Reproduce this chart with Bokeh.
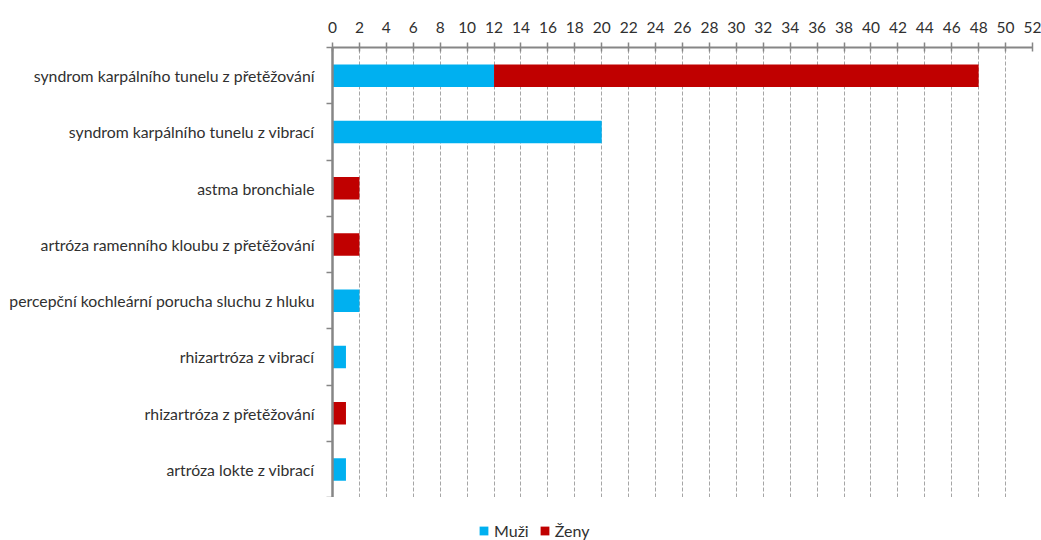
from bokeh.plotting import figure
from bokeh.layouts import column
from bokeh.models import (ColumnDataSource, Range1d, FixedTicker, Legend, LegendItem)
from bokeh.embed import file_html
from bokeh.resources import INLINE

# Occupational diseases by diagnosis, split by sex
categories = [
    "syndrom karpálního tunelu z přetěžování",
    "syndrom karpálního tunelu z vibrací",
    "astma bronchiale",
    "artróza ramenního kloubu z přetěžování",
    "percepční kochleární porucha sluchu z hluku",
    "rhizartróza z vibrací",
    "rhizartróza z přetěžování",
    "artróza lokte z vibrací",
]
muzi = [12, 20, 0, 0, 2, 1, 0, 1]
zeny = [36, 0, 2, 2, 0, 0, 1, 0]
series_names = ["Muži", "Ženy"]
x_ticks = list(range(0, 53, 2))

n = len(categories)
# first category at the top
ypos = [n - i - 0.5 for i in range(n)]
zeny_end = [m + z for m, z in zip(muzi, zeny)]

src = ColumnDataSource(dict(y=ypos, m0=[0] * n, m1=muzi, z0=muzi, z1=zeny_end))

FONT = "Lato"
TXT = "#303030"
BLUE = "#00B0F0"
RED = "#C00000"
AX = "#868686"

p = figure(
    width=1041, height=497,
    min_border_left=332, min_border_right=9, min_border_top=47, min_border_bottom=0,
    x_range=Range1d(0, 52), y_range=Range1d(0, n),
    x_axis_location="above",
    output_backend="svg", toolbar_location=None,
)
p.outline_line_color = None
p.background_fill_color = "white"
p.border_fill_color = "white"

p.hbar(y="y", left="m0", right="m1", height=0.4, color=BLUE, line_color=None, source=src)
p.hbar(y="y", left="z0", right="z1", height=0.4, color=RED, line_color=None, source=src)

# top value axis
xa = p.xaxis[0]
xa.ticker = FixedTicker(ticks=x_ticks)
xa.axis_line_color = AX
xa.axis_line_width = 2
xa.major_tick_line_color = AX
xa.major_tick_line_width = 1.5
xa.major_tick_in = 4
xa.major_tick_out = 5
xa.minor_tick_line_color = None
xa.major_label_text_font = FONT
xa.major_label_text_font_size = "15.5px"
xa.major_label_text_color = TXT
xa.major_label_standoff = 10

# left category axis: labels centred on bars, ticks between categories
ya = p.yaxis[0]
ya.ticker = FixedTicker(ticks=ypos, minor_ticks=list(range(0, n + 1)))
ya.major_label_overrides = {y: c for y, c in zip(ypos, categories)}
ya.axis_line_color = AX
ya.axis_line_width = 2.5
ya.major_tick_line_color = None
ya.minor_tick_line_color = AX
ya.minor_tick_line_width = 1.5
ya.minor_tick_in = 0
ya.minor_tick_out = 6
ya.major_label_text_font = FONT
ya.major_label_text_font_size = "15.8px"
ya.major_label_text_color = TXT
ya.major_label_standoff = 12

p.xgrid.ticker = FixedTicker(ticks=x_ticks[1:])
p.xgrid.grid_line_color = "#A6A6A6"
p.xgrid.grid_line_dash = "4 2"
p.xgrid.grid_line_width = 1
p.ygrid.grid_line_color = None

# legend strip underneath the chart; the swatch quads have zero size
lg = figure(
    width=1041, height=43, min_border=0,
    x_range=Range1d(0, 1), y_range=Range1d(0, 1),
    x_axis_location=None, y_axis_location=None,
    output_backend="svg", toolbar_location=None,
)
lg.outline_line_color = None
lg.grid.grid_line_color = None
sw_m = lg.quad(left=[0], right=[0], top=[0], bottom=[0], color=BLUE, line_color=None)
sw_z = lg.quad(left=[0], right=[0], top=[0], bottom=[0], color=RED, line_color=None)

legend = Legend(
    items=[LegendItem(label=series_names[0], renderers=[sw_m]),
           LegendItem(label=series_names[1], renderers=[sw_z])],
    orientation="horizontal", location=(146, 0),
    label_text_font=FONT, label_text_font_size="16px", label_text_color=TXT,
    glyph_width=11, glyph_height=11, label_standoff=5, spacing=10,
    padding=0, margin=0, border_line_color=None, background_fill_alpha=0,
)
lg.add_layout(legend, "center")

open("out.html", "w").write(file_html(column(p, lg, spacing=0), INLINE))
